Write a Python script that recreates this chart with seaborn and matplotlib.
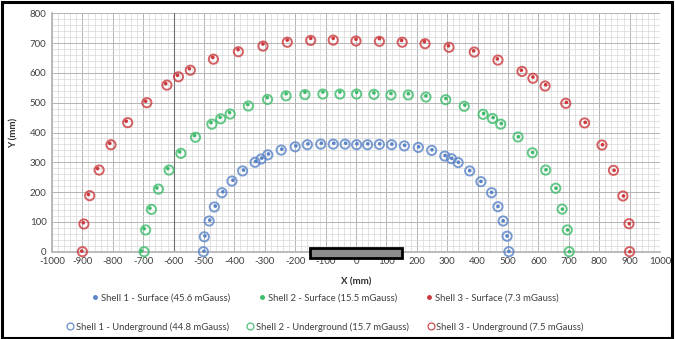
import matplotlib
matplotlib.use("Agg")
import matplotlib.pyplot as plt
import seaborn as sns
import pandas as pd
from matplotlib.lines import Line2D
from matplotlib.patches import Rectangle
from matplotlib.ticker import MultipleLocator

# ---- data (mm) ----
s3_under_x = [-900,-895,-876,-845,-806,-751,-688,-622,-584,-545,-469,-387,-306,-226,-149,-75,0,77,152,227,306,389,467,546,582,622,690,752,809,847,878,898,900]
s3_under_y = [0,93,188,274,359,433,500,559,587,609,646,671,690,703,709,710,707,706,703,698,686,670,643,605,582,556,498,432,358,273,187,94,0]
s3_surf_x = [-902,-897,-880,-850,-810,-756,-692,-626,-587,-548,-471,-388,-306,-226,-149,-75,0,77,150,225,304,387,465,544,582,624,692,754,811,849,880,899,901]
s3_surf_y = [2,97,192,279,364,438,505,564,592,614,652,678,697,710,716,716,713,715,709,705,691,674,647,609,586,560,501,434,359,273,187,94,0]

s2_under_x = [-697,-692,-673,-650,-615,-576,-528,-474,-445,-414,-354,-291,-230,-168,-109,-53,2,59,115,172,230,295,356,418,449,476,533,580,624,657,678,695,701]
s2_under_y = [0,73,142,210,274,330,384,428,446,462,489,511,523,527,529,529,529,528,526,526,519,510,488,461,447,428,385,332,274,213,143,73,0]
s2_surf_x = [-705,-697,-678,-655,-619,-580,-531,-477,-447,-416,-356,-292,-230,-168,-109,-53,2,59,115,172,230,296,358,420,451,478,534,581,625,658,679,696,702]
s2_surf_y = [2,77,146,214,279,335,390,433,451,467,494,517,530,535,536,536,535,533,531,530,523,514,492,464,450,430,386,333,275,213,143,73,0]

s1_under_x = [-502,-499,-483,-466,-441,-408,-373,-332,-312,-290,-246,-200,-160,-116,-75,-36,2,38,77,117,159,205,249,292,314,336,374,411,446,467,484,497,503]
s1_under_y = [0,50,103,150,198,237,271,300,311,325,341,352,359,361,361,361,359,359,360,359,355,350,340,321,312,299,271,235,198,151,103,52,0]
s1_surf_x = [-500,-497,-481,-463,-438,-405,-370,-330,-310,-288,-244,-198,-158,-114,-73,-34,3,39,78,118,160,206,250,293,315,337,374,411,446,467,484,497,503]
s1_surf_y = [2,53,106,153,201,240,274,303,314,328,344,355,362,364,364,364,362,362,362,361,357,352,342,323,313,300,272,236,199,152,104,53,1]

surface_labels = ["Shell 1 - Surface (45.6 mGauss)", "Shell 2 - Surface (15.5 mGauss)", "Shell 3 - Surface (7.3 mGauss)"]
under_labels = ["Shell 1 - Underground (44.8 mGauss)", "Shell 2 - Underground (15.7 mGauss)", "Shell 3 - Underground (7.5 mGauss)"]

# object footprint (rectangle)
obj_x = [-150, 150]
obj_y = [-20, 14]

colors = ["#5a84c8", "#3dbb6a", "#cc3a3e"]

sns.set_theme(style="white")
plt.rcParams['font.family'] = ['Lato', 'DejaVu Sans']
plt.rcParams['axes.unicode_minus'] = False

fig = plt.figure(figsize=(6.75, 3.39), dpi=100)
ax = fig.add_axes([52/675, (339-251.7)/339, 608/675, 238.4/339])

unders = [(s1_under_x, s1_under_y), (s2_under_x, s2_under_y), (s3_under_x, s3_under_y)]
surfs = [(s1_surf_x, s1_surf_y), (s2_surf_x, s2_surf_y), (s3_surf_x, s3_surf_y)]

for i in range(3):
    du = pd.DataFrame({"x": unders[i][0], "y": unders[i][1]})
    sns.scatterplot(data=du, x="x", y="y", ax=ax, marker="o", s=44,
                    facecolors="none", edgecolor=colors[i], linewidth=1.4,
                    alpha=0.8, clip_on=False, zorder=4, legend=False)
    ds = pd.DataFrame({"x": surfs[i][0], "y": surfs[i][1]})
    sns.scatterplot(data=ds, x="x", y="y", ax=ax, marker="o", s=7,
                    color=colors[i], edgecolor="none", linewidth=0,
                    clip_on=False, zorder=5, legend=False)

ax.add_patch(Rectangle((obj_x[0], obj_y[0]), obj_x[1]-obj_x[0], obj_y[1]-obj_y[0],
                       facecolor="#8c8c8c", edgecolor="black", linewidth=2.0,
                       clip_on=False, zorder=6))

ax.set_xlim(-1000, 1000)
ax.set_ylim(0, 800)
ax.xaxis.set_major_locator(MultipleLocator(100))
ax.yaxis.set_major_locator(MultipleLocator(100))
ax.xaxis.set_minor_locator(MultipleLocator(20))
ax.yaxis.set_minor_locator(MultipleLocator(20))
ax.grid(True, which="major", color="#b4b4b4", linewidth=0.7)
ax.grid(True, which="minor", color="#d8d8d8", linewidth=0.5)
ax.set_axisbelow(True)
ax.axvline(-600, color="#707070", linewidth=0.8, zorder=1)
for sp in ax.spines.values():
    sp.set_visible(False)
ax.spines["left"].set_visible(True)
ax.spines["left"].set_color("#b4b4b4")
ax.spines["bottom"].set_visible(True)
ax.spines["bottom"].set_color("#b4b4b4")
ax.tick_params(axis="both", which="both", length=0, labelsize=7, colors="#404040", pad=4)
ax.set_xlabel("X (mm)", fontsize=7, fontweight="bold", color="#303030", labelpad=8)
ax.set_ylabel("Y (mm)", fontsize=7, fontweight="bold", color="#303030", labelpad=8)

h1 = [Line2D([], [], linestyle="none", marker="o", markersize=2.5, color=c) for c in colors]
h2 = [Line2D([], [], linestyle="none", marker="o", markersize=5, markerfacecolor="none",
             markeredgecolor=c, markeredgewidth=0.8) for c in colors]
leg1 = fig.legend(h1, surface_labels, ncol=3, loc="center", bbox_to_anchor=(325/675, 1-298/339),
                  frameon=False, fontsize=6.8, handletextpad=0.3, columnspacing=2.9, handlelength=0.8)
leg2 = fig.legend(h2, under_labels, ncol=3, loc="center", bbox_to_anchor=(325/675, 1-327/339),
                  frameon=False, fontsize=6.8, handletextpad=0.2, columnspacing=1.9, handlelength=0.8)
for leg in (leg1, leg2):
    for t in leg.get_texts():
        t.set_color("#404040")

fig.patches.append(Rectangle((0.003, 0.004), 0.992, 0.99, transform=fig.transFigure,
                             fill=False, edgecolor="black", linewidth=2.2))

fig.savefig("out.png", dpi=100)
